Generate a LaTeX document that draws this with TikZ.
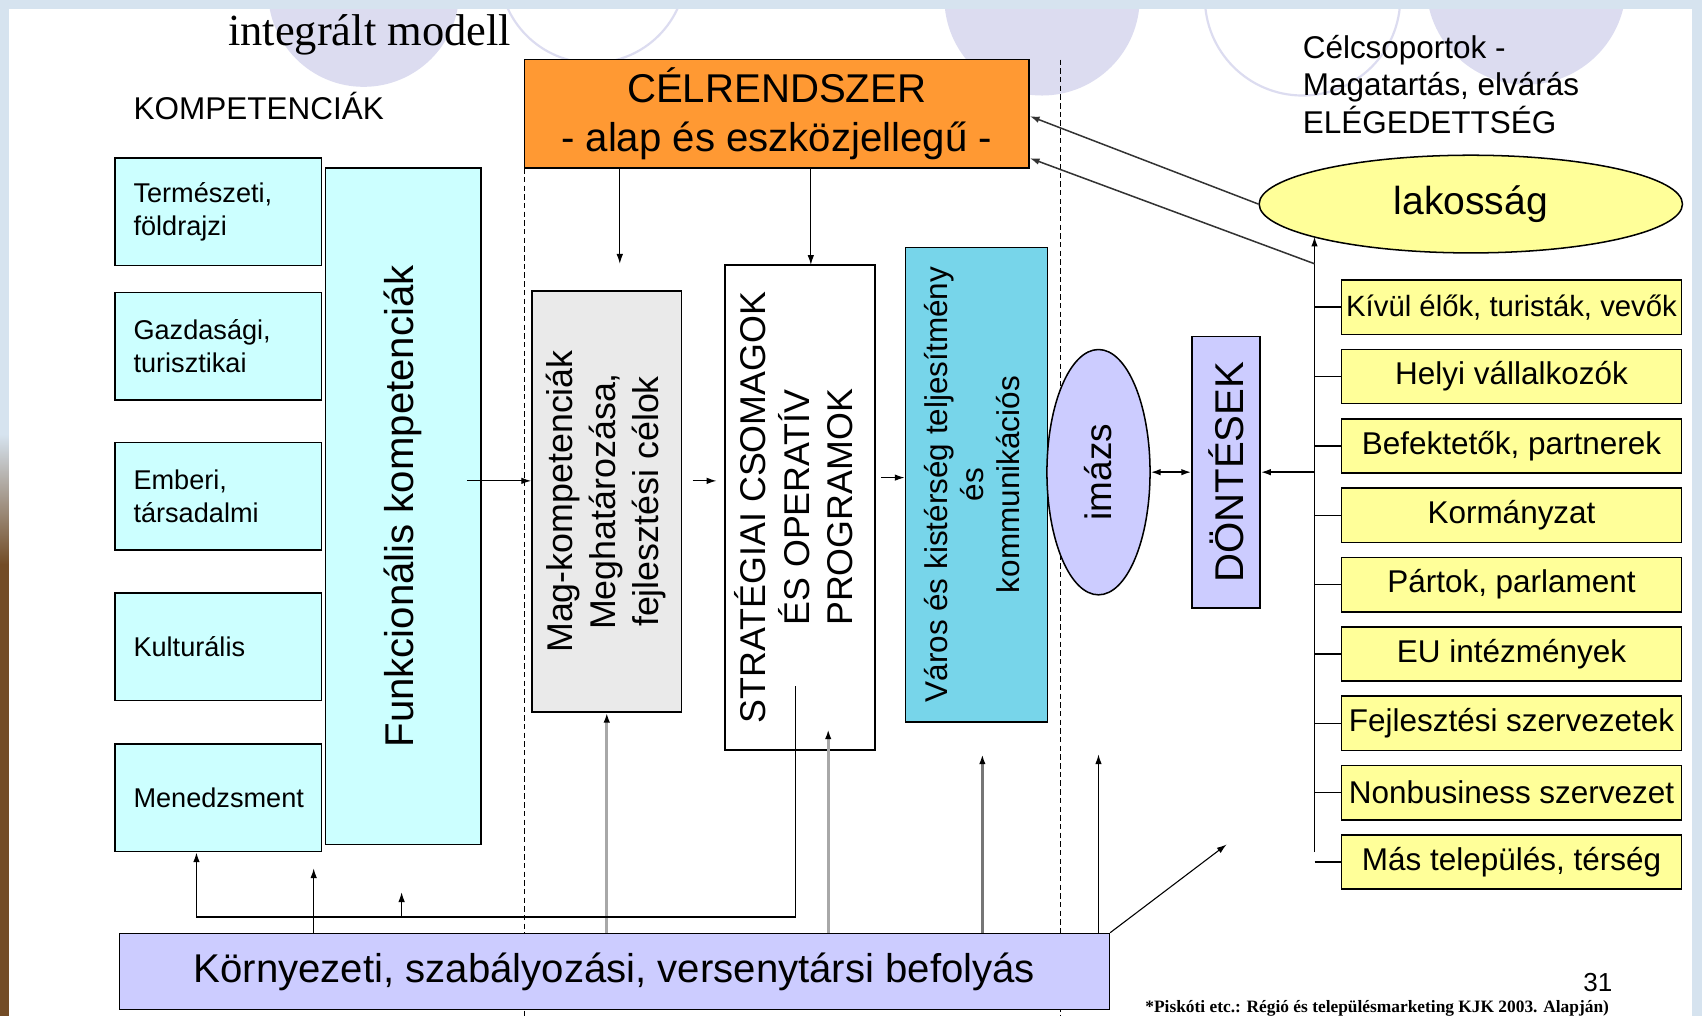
\documentclass[tikz,border=0pt]{standalone}
\usepackage{graphicx}
\usepackage{fontspec}
\setmainfont{Liberation Sans}
\newfontfamily\timesfont{Liberation Serif}
\usepackage{tikz}
\usetikzlibrary{positioning, arrows.meta, shapes.geometric}
\newcommand{\fsz}[2]{\fontsize{#1}{#2}\selectfont}
\definecolor{halvkek}{HTML}{CCFFFF}
\definecolor{narancs}{HTML}{FF9933}
\definecolor{szurke}{HTML}{EAEAEA}
\definecolor{turkiz}{HTML}{77D5EA}
\definecolor{lila}{HTML}{CCCCFF}
\definecolor{sarga}{HTML}{FFFF99}
\definecolor{korlila}{HTML}{DCDCF0}
\definecolor{hatter}{HTML}{D6E3EF}
\definecolor{nyil}{HTML}{A8A8A8}
\tikzset{>={Latex[length=9pt,width=6pt]}, % arrow heads for every edge
box/.style={draw, line width=1.4pt, inner sep=2pt}, % every framed box
kompbox/.style={box, fill=halvkek, minimum width=190pt, minimum height=99pt, inner xsep=17pt, text width=156pt, align=left, font=\fsz{25}{30}}, % competence boxes on the left
celbox/.style={box, fill=sarga, minimum width=313pt, minimum height=50pt, inner sep=0pt, font=\fsz{29}{32}}, % target group boxes
nyilvonal/.style={->, line width=1pt}, % thin black arrow
szurkenyil/.style={-{Latex[length=9pt,width=6pt,black]}, draw=nyil, line width=2.5pt}, % grey influence arrow
oszto/.style={dash pattern=on 5pt off 3pt, line width=1.2pt}, % dashed dividers
}
\begin{document}
\begin{tikzpicture}[x=1pt, y=-1pt]
\useasboundingbox (0,0) rectangle (1568,936);
% slide background
\fill[hatter] (0,0) rectangle (1568,936);
\fill[white] (8,8) rectangle (1559,936);
\shade[top color=hatter, bottom color=brown!60!black] (0,400) rectangle (8,520);
\fill[brown!60!black] (0,520) rectangle (8,936);
\fill[korlila] (335,-8) circle (88pt);
\draw[korlila, line width=2pt] (546,-28) circle (86pt);
\fill[korlila] (960,-2) circle (90pt);
\draw[korlila, line width=2pt] (1200,-2) circle (90pt);
\fill[korlila] (1406,-14) circle (92pt);
\fill[hatter] (0,0) rectangle (1568,8);
% dividers
\draw[oszto] (483,155) -- (483,936);
\draw[oszto] (977,55) -- (977,936);

\node[anchor=base west, inner sep=0pt, font=\timesfont\fsz{41}{46}] (cim) at (210,42) {integrált modell};
\node[anchor=base west, inner sep=0pt, font=\fsz{29}{34}] (kompfej) at (123,110) {KOMPETENCIÁK};
\node[anchor=north west, inner sep=0pt, align=left, font=\fsz{29}{34.5}] (csop) at (1200,32) {Célcsoportok -\\Magatartás, elvárás\\ELÉGEDETTSÉG};

\node[kompbox] (k1) at (201,195) {Természeti,\\földrajzi};
\node[kompbox] (k2) at (201,319) {Gazdasági,\\turisztikai};
\node[kompbox] (k3) at (201,457) {Emberi,\\társadalmi};
\node[kompbox] (k4) at (201,596) {Kulturális};
\node[kompbox] (k5) at (201,735) {Menedzsment};

\node[box, fill=halvkek, minimum width=143pt, minimum height=623pt] (funk) at (371.5,466.5) {\rotatebox{90}{\fsz{37}{40}Funkcionális kompetenciák}};
\node[box, fill=narancs, minimum width=465pt, minimum height=100pt, align=center, font=\fsz{37}{45}] (cel) at (715.5,105) {CÉLRENDSZER\\- alap és eszközjellegű -};
\node[box, fill=szurke, minimum width=138pt, minimum height=388pt] (mag) at (559,462) {\rotatebox{90}{\fsz{33}{40}\begin{tabular}{@{}c@{}}Mag-kompetenciák\\Meghatározása,\\fejlesztési célok\end{tabular}}};
\node[box, fill=white, minimum width=138pt, minimum height=447pt] (strat) at (737,467.5) {\rotatebox{90}{\fsz{33}{40}\begin{tabular}{@{}c@{}}STRATÉGIAI CSOMAGOK\\ÉS OPERATÍV\\PROGRAMOK\end{tabular}}};
\node[box, fill=turkiz, minimum width=131pt, minimum height=437pt] (varos) at (899.5,446.5) {\rotatebox{90}{\fsz{29}{33}\begin{tabular}{@{}c@{}}Város és kistérség teljesítmény\\és\\kommunikációs\end{tabular}}};
\node[draw, line width=1.4pt, ellipse, fill=lila, minimum width=95pt, minimum height=226pt, inner sep=0pt] (imazs) at (1012,435) {\rotatebox{90}{\fsz{34}{40}imázs}};
\node[box, fill=lila, minimum width=63pt, minimum height=250pt] (dont) at (1129.5,435) {\rotatebox{90}{\fsz{37}{40}DÖNTÉSEK}};
\node[draw, line width=1.4pt, ellipse, fill=sarga, minimum width=390pt, minimum height=90pt, font=\fsz{36}{40}] (lak) at (1355,188) {lakosság};

\node[celbox, font=\fsz{27}{32}] (y1) at (1392.5,283) {Kívül élők, turisták, vevők};
\node[celbox, below=12.5pt of y1] (y2) {Helyi vállalkozók};
\node[celbox, below=12.5pt of y2] (y3) {Befektetők, partnerek};
\node[celbox, below=12.5pt of y3] (y4) {Kormányzat};
\node[celbox, below=12.5pt of y4] (y5) {Pártok, parlament};
\node[celbox, below=12.5pt of y5] (y6) {EU intézmények};
\node[celbox, below=12.5pt of y6] (y7) {Fejlesztési szervezetek};
\node[celbox, below=12.5pt of y7] (y8) {Nonbusiness szervezet};
\node[celbox, below=12.5pt of y8] (y9) {Más település, térség};

\node[box, fill=lila, minimum width=912pt, minimum height=70pt, font=\fsz{37}{42}] (kor) at (566,895) {Környezeti, szabályozási, versenytársi befolyás};
\node[font=\fsz{24}{28}] (oldal) at (1472,905) {31};
\node[anchor=base west, inner sep=0pt, font=\timesfont\bfseries\fsz{16}{18}] (forras) at (1055,933) {*Piskóti etc.: Régió és településmarketing KJK 2003. Alapján)};

% goal system down to the middle column
\coordinate (c1) at (571,243);
\coordinate (c2) at (747,244);
\draw
(cel.south -| c1) edge[nyilvonal] (c1)
(cel.south -| c2) edge[nyilvonal] (c2);

% left to right chain
\coordinate (f1) at (430,443);
\coordinate (m1) at (638,443);
\coordinate (m2) at (660,443);
\coordinate (s1) at (812,440);
\draw
(f1) edge[nyilvonal] (f1 -| mag.west)
(m1) edge[nyilvonal] (m2)
(s1) edge[nyilvonal] (s1 -| varos.west);
\draw[<->, line width=1.4pt] (imazs.east) -- (dont.west);

% target group tree
\coordinate (fa) at (1211,785);
\coordinate (fateto) at (1211,218);
\coordinate (d1) at (1211,243);
\draw[nyilvonal, line width=1.4pt] (fa) -- (fateto);
\draw[line width=1.4pt]
(fa |- y1.west) edge (y1.west)
(fa |- y2.west) edge (y2.west)
(fa |- y3.west) edge (y3.west)
(fa |- y4.west) edge (y4.west)
(fa |- y5.west) edge (y5.west)
(fa |- y6.west) edge (y6.west)
(fa |- y7.west) edge (y7.west)
(fa |- y8.west) edge (y8.west)
(fa |- y9.west) edge (y9.west);
\draw[nyilvonal, line width=1.4pt] (fa |- dont.east) -- (dont.east);
\draw[line width=1.4pt, black!80]
(d1) edge[->] ([yshift=10pt]cel.south east)
(lak.west) edge[->] ([yshift=-2pt]cel.east);

% influences from the bottom box
\coordinate (e2) at (763,672);
\coordinate (e3) at (905,695);
\draw[szurkenyil] (kor.north -| mag.south) -- (mag.south);
\draw[szurkenyil] (kor.north -| e2) -- (e2);
\draw[szurkenyil, draw=nyil!70!black] (kor.north -| e3) -- (e3);

\coordinate (s2) at (733,632);
\coordinate (h1) at (733,845);
\coordinate (h0) at (181,845);
\coordinate (h2) at (370,845);
\coordinate (h3) at (370,822);
\coordinate (e1) at (289,800);
\coordinate (e4) at (1012,695);
\coordinate (e5) at (1130,778);
\draw[nyilvonal, line width=1.4pt] (s2) -- (h1) -- (h0) -- (h0 |- k5.south);
\draw
(h2) edge[nyilvonal] (h3)
(kor.north -| e1) edge[nyilvonal] (e1)
(kor.north -| e4) edge[nyilvonal] (e4)
(kor.north east) edge[nyilvonal] (e5);
\end{tikzpicture}
\end{document}
